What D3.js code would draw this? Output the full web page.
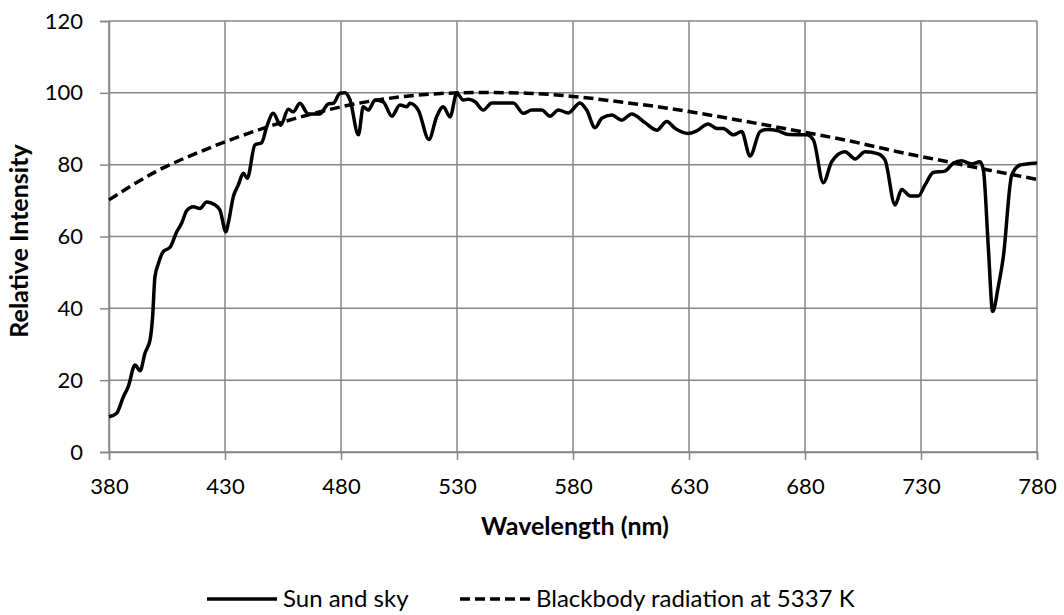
<!DOCTYPE html>
<html>
<head>
<meta charset="utf-8">
<script src="https://cdn.jsdelivr.net/npm/d3@7"></script>
<style>
  body { margin: 0; background: #fff; }
  svg { display: block; font-family: Lato, "Open Sans", sans-serif; }
</style>
</head>
<body>
<svg id="chart" width="1064" height="615"></svg>
<script>
// measured spectrum (nm, relative intensity)
const sunWavelengths = [380, 383.3, 386.2, 388.3, 391.2, 393.4, 395.5, 397.7, 398.8, 399.8, 401.3, 403.4, 406.3, 409.2, 411.3, 413.5, 416.3, 419.2, 422.1, 425.7, 427.8, 430.4, 431.4, 433.6, 435.7, 437.9, 439.6, 442.9, 445.8, 448, 450.8, 454, 457.3, 459.4, 462.3, 465.9, 470.9, 474.5, 476.7, 479.6, 481.7, 483.9, 487.5, 489.6, 491.8, 494.7, 498.2, 501.9, 505.4, 508.3, 509.7, 513.3, 517.9, 521.2, 524.1, 527, 529.9, 532.7, 534.9, 537.8, 541.3, 545, 554.3, 558.6, 562.2, 566.5, 570.1, 573.7, 578, 583, 585.9, 589.5, 592.4, 596.7, 601, 605.3, 611, 616.1, 620.4, 624, 629.7, 633.3, 638.3, 641.9, 644.8, 649.1, 652.7, 656.3, 660.6, 663.5, 668.5, 672.8, 680.7, 683.6, 687.9, 691.5, 697.2, 701.6, 705.9, 711.6, 714.5, 718.8, 721.7, 725.3, 728.9, 731.7, 735.3, 740.3, 743.9, 747.5, 751.8, 755.4, 756.9, 759, 760.9, 763.3, 765.5, 769.1, 772.7, 775.6, 780];
const sunValues = [9.8, 10.8, 15.4, 18.2, 24.2, 22.6, 27.5, 31.2, 37.7, 48.8, 52.5, 55.8, 57, 61.3, 63.7, 67.2, 68.3, 67.8, 69.6, 68.8, 67.4, 61.3, 63.7, 71.1, 74.3, 77.6, 76.2, 85.5, 86.1, 90.6, 94.3, 91, 95.4, 94.7, 97.1, 94.1, 94.1, 96.9, 97.1, 99.9, 100, 98, 88.3, 96.1, 95.2, 98, 97.5, 93.5, 96.6, 96.1, 97.1, 95.2, 87, 93.3, 96.1, 93.3, 99.9, 98, 98.2, 97.5, 95.2, 97.2, 97.2, 94.3, 95.2, 95.2, 93.5, 95.2, 94.4, 97.2, 95.2, 90.3, 92.9, 93.8, 92.4, 94.1, 91.7, 89.6, 92, 90.1, 88.7, 89.4, 91.3, 90.1, 90.1, 88.3, 89.2, 82.4, 89.2, 89.8, 89.4, 88.4, 88.3, 86.9, 75, 80.8, 83.6, 81.6, 83.6, 83, 81.3, 68.8, 73.1, 71.3, 71.3, 74.3, 77.8, 78.2, 80.4, 81.1, 80.2, 80.8, 78.5, 57.2, 39.1, 46, 54.4, 77.1, 79.9, 80.2, 80.5];

// blackbody curve
const bbWavelengths = [380, 400, 420, 440, 460, 480, 500, 520, 540, 560, 580, 600, 620, 640, 660, 680, 700, 720, 740, 760, 780];
const bbValues = [70.2, 78.0, 83.8, 88.7, 92.8, 96.1, 98.4, 99.7, 100.1, 99.9, 99.0, 97.5, 95.8, 93.7, 91.4, 89.0, 86.5, 83.6, 81.0, 78.4, 75.9];

const xTicks = [380, 430, 480, 530, 580, 630, 680, 730, 780];
const yTicks = [0, 20, 40, 60, 80, 100, 120];

const seriesNames = ["Sun and sky", "Blackbody radiation at 5337 K"];

const svg = d3.select("#chart");
const margin = { left: 109, right: 27, top: 21, bottom: 163 };
const width = 1064 - margin.left - margin.right;
const height = 615 - margin.top - margin.bottom;
const g = svg.append("g").attr("transform", `translate(${margin.left},${margin.top})`);

const x = d3.scaleLinear().domain([380, 780]).range([0, width]);
const y = d3.scaleLinear().domain([0, 120]).range([height, 0]);
const grid = "#868686";

// grid lines
g.append("g").selectAll("line").data(xTicks).join("line")
  .attr("x1", d => x(d)).attr("x2", d => x(d))
  .attr("y1", 0).attr("y2", height)
  .attr("stroke", grid).attr("stroke-width", 1.5);
g.append("g").selectAll("line").data(yTicks).join("line")
  .attr("x1", 0).attr("x2", width)
  .attr("y1", d => y(d)).attr("y2", d => y(d))
  .attr("stroke", grid).attr("stroke-width", 1.5);

// axes
const xAxis = g.append("g").attr("transform", `translate(0,${height})`)
  .call(d3.axisBottom(x).tickValues(xTicks).tickSize(8).tickPadding(18).tickFormat(d3.format("d")));
const yAxis = g.append("g")
  .call(d3.axisLeft(y).tickValues(yTicks).tickSize(9).tickPadding(17));
[xAxis, yAxis].forEach(a => {
  a.select(".domain").attr("stroke", grid).attr("stroke-width", 1.5);
  a.selectAll(".tick line").attr("stroke", grid).attr("stroke-width", 1.5);
  a.selectAll("text").attr("font-size", 22).attr("fill", "#000").attr("font-family", "Lato, sans-serif");
});

// lines
const sunData = sunWavelengths.map((w, i) => [w, sunValues[i]]);
const bbData = bbWavelengths.map((w, i) => [w, bbValues[i]]);

const line = d3.line().x(d => x(d[0])).y(d => y(d[1])).curve(d3.curveMonotoneX);

g.append("path").datum(bbData)
  .attr("fill", "none").attr("stroke", "#000").attr("stroke-width", 3.5)
  .attr("stroke-dasharray", "10,5")
  .attr("d", line);

g.append("path").datum(sunData)
  .attr("fill", "none").attr("stroke", "#000").attr("stroke-width", 3.5)
  .attr("stroke-linejoin", "round")
  .attr("d", line);

// axis titles
svg.append("text")
  .attr("x", 575).attr("y", 535)
  .attr("text-anchor", "middle").attr("font-size", 25).attr("font-weight", "bold")
  .text("Wavelength (nm)");
svg.append("text")
  .attr("transform", "translate(28,241) rotate(-90)")
  .attr("text-anchor", "middle").attr("font-size", 25).attr("font-weight", "bold")
  .text("Relative Intensity");

// legend
const legend = svg.append("g").attr("transform", "translate(207,599)");
const items = [
  { name: seriesNames[0], dash: null, x: 0 },
  { name: seriesNames[1], dash: "10,5", x: 253 }
];
items.forEach(it => {
  legend.append("line")
    .attr("x1", it.x).attr("x2", it.x + 70).attr("y1", 0).attr("y2", 0)
    .attr("stroke", "#000").attr("stroke-width", 3.5)
    .attr("stroke-dasharray", it.dash);
  legend.append("text")
    .attr("x", it.x + 76).attr("y", 8)
    .attr("font-size", 24)
    .text(it.name);
});
</script>
</body>
</html>
